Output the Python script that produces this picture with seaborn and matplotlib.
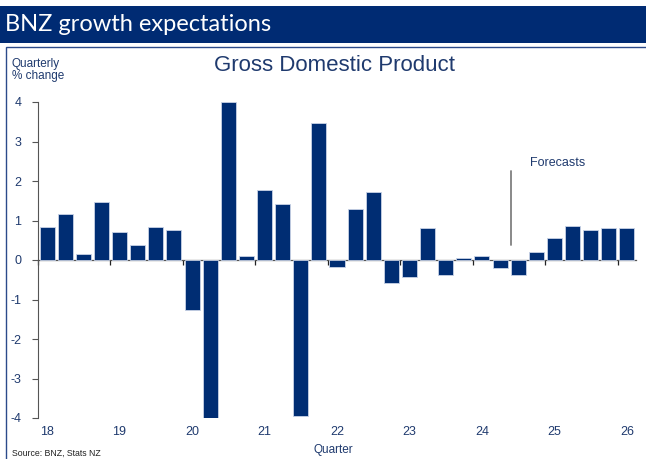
import numpy as np
import pandas as pd
import seaborn as sns
import matplotlib.pyplot as plt
from matplotlib.patches import Rectangle

# quarterly GDP growth, 2018Q1 - 2026Q1 (last few are BNZ forecasts)
quarters = [f"{y}Q{q}" for y in range(2018, 2027) for q in range(1, 5)][:33]
gdp_change = [0.83, 1.17, 0.15, 1.48, 0.71, 0.38, 0.84, 0.76,
              -1.27, -4.0, 4.0, 0.10, 1.77, 1.43, -3.95, 3.46,
              -0.17, 1.28, 1.73, -0.57, -0.44, 0.80, -0.39, 0.04,
              0.10, -0.19, -0.39, 0.20, 0.55, 0.85, 0.75, 0.80, 0.82]
year_labels = ['18', '19', '20', '21', '22', '23', '24', '25', '26']
y_ticks = [-4, -3, -2, -1, 0, 1, 2, 3, 4]

navy = '#002D73'
text_col = '#1F3A6E'

df = pd.DataFrame({'Quarter': quarters, 'Change': gdp_change})

sns.set_style('white')
plt.rcParams['font.family'] = ['Liberation Sans', 'DejaVu Sans']
plt.rcParams['axes.unicode_minus'] = False

fig = plt.figure(figsize=(6.46, 4.59), dpi=100)
W, H = 646, 459

# header band + outer frame
fig.patches.append(Rectangle((0, 1 - 43 / H), 1, 37 / H, transform=fig.transFigure,
                             facecolor='#002B73', edgecolor='none', zorder=0))
fig.patches.append(Rectangle((6 / W, -0.01), 1, 1 - 47 / H + 0.01, transform=fig.transFigure,
                             facecolor='none', edgecolor='#2B4A8A', lw=1.0, zorder=0))
fig.text(5 / W, 1 - 24.5 / H, 'BNZ growth expectations', color='white', fontsize=17,
         family=['Lato', 'DejaVu Sans'], ha='left', va='center')

ax = fig.add_axes([38 / W, 1 - 418 / H, 598 / W, 316 / H])
sns.barplot(data=df, x='Quarter', y='Change', color=navy, saturation=1, width=0.83,
            edgecolor='#C8D2E6', linewidth=0.6, ax=ax)

ax.set_xlim(-0.5, len(quarters) - 0.5)
ax.set_ylim(-4, 4)
ax.set_yticks(y_ticks)
ax.set_yticklabels([str(t) for t in y_ticks])
ax.tick_params(axis='y', direction='out', length=4, width=0.8, color='#555555',
               labelsize=9, labelcolor=text_col, pad=8, left=True)

# year labels at each Q1, no tick marks
ax.set_xticks(np.arange(0, len(quarters), 4))
ax.set_xticklabels(year_labels)
ax.tick_params(axis='x', length=0, labelsize=9, labelcolor=text_col, pad=6)
ax.set_xlabel('')
ax.set_ylabel('')

for s in ['top', 'right', 'bottom']:
    ax.spines[s].set_visible(False)
ax.spines['left'].set_color('#555555')
ax.spines['left'].set_linewidth(0.8)

# zero line with year boundary ticks
zero_ax = ax.secondary_xaxis(0, transform=ax.transData)
zero_ax.set_xticks(np.arange(-0.5, len(quarters), 4))
zero_ax.set_xticklabels([])
zero_ax.tick_params(direction='out', length=3.5, width=0.9, color='#222222')
zero_ax.spines['bottom'].set_color('#555555')
zero_ax.spines['bottom'].set_linewidth(0.9)

# forecast marker
ax.plot([25.6, 25.6], [0.38, 2.25], color='#808080', lw=1.3)
ax.text(26.65, 2.46, 'Forecasts', color=text_col, fontsize=9, ha='left', va='center')

fig.text(335 / W, 1 - 66 / H, 'Gross Domestic Product', color=text_col, fontsize=16,
         ha='center', va='center')
fig.text(12 / W, 1 - 70 / H, 'Quarterly\n% change', color=text_col, fontsize=8.5,
         ha='left', va='center', linespacing=1.1)
fig.text(333 / W, 1 - 450 / H, 'Quarter', color=text_col, fontsize=8.5,
         ha='center', va='center')
fig.text(12 / W, 1 - 453 / H, 'Source: BNZ, Stats NZ', color='#222222', fontsize=6.3,
         ha='left', va='center')

fig.savefig('out.png', dpi=100)
